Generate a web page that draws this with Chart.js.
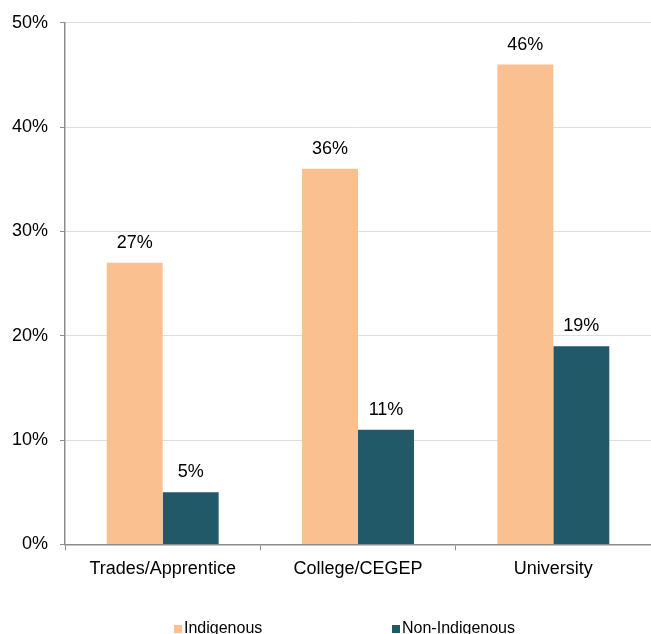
<!DOCTYPE html>
<html>
<head>
<meta charset="utf-8">
<script src="https://cdn.jsdelivr.net/npm/chart.js@4.4.1/dist/chart.umd.min.js"></script>
<style>
  html, body { margin: 0; padding: 0; background: #fff; overflow: hidden; }
  #wrap { width: 651px; height: 634px; }
</style>
</head>
<body>
<div id="wrap"><canvas id="eduChart" width="651" height="634"></canvas></div>
<script>
"use strict";

// Kategorier och andelar (%)
const categories = ["Trades/Apprentice", "College/CEGEP", "University"];
const indigenous = [27, 36, 46];
const nonIndigenous = [5, 11, 19];
const yTicks = [0, 10, 20, 30, 40, 50];

const fontFamily = "'Liberation Sans', Arial, sans-serif";
const axisGray = "#8c8c8c";

// Skriver ut värdet ovanför varje stapel
const valueLabels = {
    id: "valueLabels",
    afterDatasetsDraw(chart) {
        const ctx = chart.ctx;
        ctx.save();
        ctx.font = "18px " + fontFamily;
        ctx.fillStyle = "#000";
        ctx.textAlign = "center";
        ctx.textBaseline = "alphabetic";
        chart.data.datasets.forEach((ds, i) => {
            chart.getDatasetMeta(i).data.forEach((bar, j) => {
                ctx.fillText(ds.data[j] + "%", bar.x, bar.y - 15);
            });
        });
        ctx.restore();
    }
};

// Egen förklaring längst ner, små fyrkanter
const bottomLegend = {
    id: "bottomLegend",
    afterDraw(chart) {
        const ctx = chart.ctx;
        const starts = [174, 392];
        ctx.save();
        ctx.font = "16px " + fontFamily;
        ctx.textBaseline = "alphabetic";
        ctx.textAlign = "left";
        chart.data.datasets.forEach((ds, i) => {
            const x = starts[i];
            ctx.fillStyle = ds.backgroundColor;
            ctx.fillRect(x, 625, 8, 8);
            ctx.fillStyle = "#000";
            ctx.fillText(ds.label, x + 10, 633);
        });
        ctx.restore();
    }
};

const ctx = document.getElementById("eduChart");

new Chart(ctx, {
    type: "bar",
    data: {
        labels: categories,
        datasets: [{
            label: "Indigenous",
            data: indigenous,
            backgroundColor: "#FAC090"
        }, {
            label: "Non-Indigenous",
            data: nonIndigenous,
            backgroundColor: "#215968"
        }]
    },
    options: {
        responsive: false,
        animation: false,
        layout: {
            padding: { top: 22, left: 0, right: 0, bottom: 46 }
        },
        datasets: {
            bar: {
                categoryPercentage: 0.573,
                barPercentage: 1.0
            }
        },
        plugins: {
            legend: { display: false },
            tooltip: { enabled: false }
        },
        scales: {
            x: {
                offset: true,
                grid: {
                    offset: true,
                    drawOnChartArea: false,
                    drawTicks: true,
                    tickLength: 6,
                    tickColor: axisGray
                },
                border: { color: axisGray, width: 1.5 },
                ticks: {
                    color: "#000",
                    padding: 8,
                    font: { family: fontFamily, size: 18 }
                }
            },
            y: {
                min: 0,
                max: 50,
                afterBuildTicks(axis) {
                    axis.ticks = yTicks.map(v => ({ value: v }));
                },
                grid: {
                    color: "#dedede",
                    lineWidth: 1,
                    tickLength: 5,
                    tickColor: axisGray
                },
                border: { color: axisGray, width: 1.5 },
                ticks: {
                    color: "#000",
                    padding: 12,
                    font: { family: fontFamily, size: 18 },
                    callback: v => v + "%"
                }
            }
        }
    },
    plugins: [valueLabels, bottomLegend]
});
</script>
</body>
</html>
